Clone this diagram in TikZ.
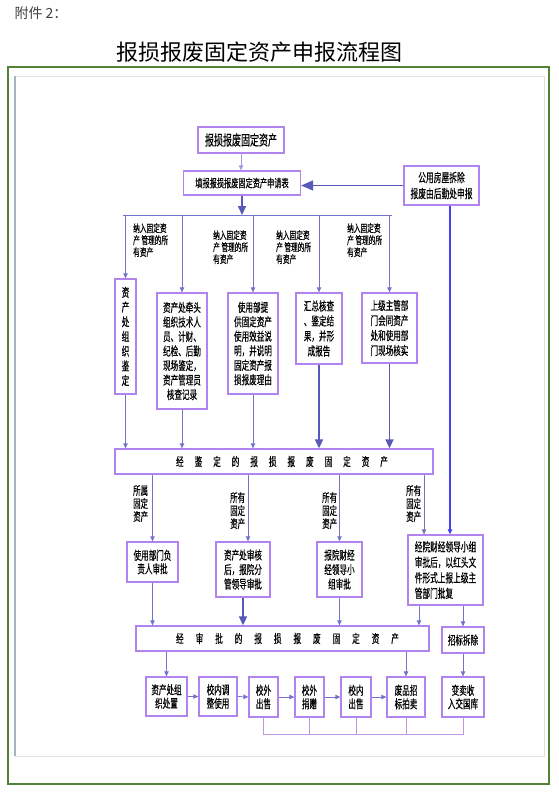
\documentclass[tikz,border=0pt]{standalone}
\usepackage{fontspec}
\usepackage{tikz}
\usetikzlibrary{arrows.meta}
\newfontfamily\cjk[FakeStretch=0.63,FakeBold=0.5]{Noto Sans CJK SC}
\newfontfamily\cjkwide{Noto Sans CJK SC}
\definecolor{boxline}{RGB}{178,132,240}
\definecolor{flowline}{RGB}{115,115,205}
\definecolor{flowdark}{RGB}{88,88,185}
\definecolor{flowblue}{RGB}{65,65,245}
\definecolor{bracketline}{RGB}{190,150,225}
\definecolor{framegreen}{RGB}{84,130,53}
\definecolor{framegray}{RGB}{222,226,228}
\definecolor{frameblue}{RGB}{160,182,192}
\newcommand{\barsep}[1][11pt]{\hspace{#1}}
\tikzset{
  box/.style={draw=boxline, line width=1.3pt, inner sep=1pt, align=center,
    font=\cjk\fontsize{12}{14.5}\selectfont},
  note/.style={anchor=north west, inner sep=0pt, align=left,
    font=\cjk\fontsize{10.6}{12}\selectfont},
  tag/.style={note, font=\cjk\fontsize{11.8}{13}\selectfont},
  flow/.style={draw=flowline, line width=0.8pt, -{Triangle[length=5pt,width=4.5pt]}},
  bigflow/.style={draw=flowdark, line width=1.6pt, -{Triangle[length=9pt,width=8pt]}},
}
\begin{document}
\begin{tikzpicture}[x=1pt,y=-1pt]
  \useasboundingbox (0,0) rectangle (559,795);
  \draw[framegreen, line width=1.2pt] (8,67) rectangle (549,784);
  \draw[framegray, line width=1pt] (15,76) rectangle (544,756);
  \draw[frameblue, line width=1.5pt] (15,76) -- (15,756);

  \node[anchor=west, text=black!75, font=\cjkwide\fontsize{14}{16}\selectfont] (annex) at (11,13) {附件 2：};
  \node[font=\cjkwide\fontsize{22}{24}\selectfont] (title) at (259,52) {报损报废固定资产申报流程图};

  % application
  \node[box, minimum width=86pt, minimum height=26pt, font=\cjk\fontsize{14.3}{15}\selectfont] (a) at (241,140) {报损报废固定资产};
  \node[box, minimum width=117pt, minimum height=24pt, font=\cjk\fontsize{11.4}{12}\selectfont] (b) at (242,183) {填报报损报废固定资产申请表};
  \node[box, minimum width=75pt, minimum height=39pt, font=\cjk\fontsize{12.3}{16}\selectfont] (c) at (441.5,185.5) {公用房屋拆除\\报废由后勤处申报};
  \coordinate (splitL) at (123,215);
  \coordinate (splitR) at (392,215);

  % appraisal
  \node[box, minimum width=21pt, minimum height=115pt, font=\cjk\fontsize{12}{14.7}\selectfont] (d1) at (125.5,336.5) {资\\产\\处\\组\\织\\鉴\\定};
  \node[box, minimum width=50pt, minimum height=116pt] (d2) at (182,351) {资产处牵头\\组织技术人\\员、计财、\\纪检、后勤\\现场鉴定，\\资产管理员\\核查记录};
  \node[box, minimum width=50pt, minimum height=101pt] (d3) at (253,343.5) {使用部提\\供固定资产\\使用效益说\\明，并说明\\固定资产报\\损报废理由};
  \node[box, minimum width=46pt, minimum height=71pt, font=\cjk\fontsize{12}{15}\selectfont] (d4) at (319,328.5) {汇总核查\\、鉴定结\\果，并形\\成报告};
  \node[box, minimum width=55pt, minimum height=70pt, font=\cjk\fontsize{12}{15}\selectfont] (d5) at (389.5,328) {上级主管部\\门会同资产\\处和使用部\\门现场核实};
  \node[note] (n1) at (133,223) {纳入固定资\\产 管理的所\\有资产};
  \node[note] (n2) at (213,230) {纳入固定资\\产 管理的所\\有资产};
  \node[note] (n3) at (276,230) {纳入固定资\\产 管理的所\\有资产};
  \node[note] (n4) at (347,223) {纳入固定资\\产 管理的所\\有资产};
  \node[box, minimum width=318pt, minimum height=25pt] (e) at (274,461.5) {\hspace*{16pt}经\barsep 鉴\barsep 定\barsep 的\barsep 报\barsep 损\barsep 报\barsep 废\barsep 固\barsep 定\barsep 资\barsep 产};

  % approval
  \node[box, minimum width=51pt, minimum height=40pt, font=\cjk\fontsize{12}{13.5}\selectfont] (f1) at (152.5,562) {使用部门负\\责人审批};
  \node[box, minimum width=54pt, minimum height=55pt] (f2) at (243,569.5) {资产处审核\\后，报院分\\管领导审批};
  \node[box, minimum width=45pt, minimum height=55pt] (f3) at (339.5,569.5) {报院财经\\经领导小\\组审批};
  \node[box, minimum width=75pt, minimum height=70pt, align=left, font=\cjk\fontsize{12.2}{15.5}\selectfont] (f4) at (445.5,570) {经院财经领导小组\\审批后，以红头文\\件形式上报上级主\\管部门批复};
  \node[tag] (t1) at (133,485) {所属\\固定\\资产};
  \node[tag] (t2) at (230,492) {所有\\固定\\资产};
  \node[tag] (t3) at (322,492) {所有\\固定\\资产};
  \node[tag] (t4) at (406,485) {所有\\固定\\资产};
  \node[box, minimum width=293pt, minimum height=25pt] (g) at (282.5,638.5) {\hspace*{10pt}经\barsep[12pt]审\barsep[12pt]批\barsep[12pt]的\barsep[12pt]报\barsep[12pt]损\barsep[12pt]报\barsep[12pt]废\barsep[12pt]固\barsep[12pt]定\barsep[12pt]资\barsep[12pt]产};
  \node[box, minimum width=42pt, minimum height=26pt] (h) at (463,640) {招标拆除};

  % disposal
  \node[box, minimum width=41pt, minimum height=39pt, font=\cjk\fontsize{12}{13.5}\selectfont] (i1) at (166.5,696.5) {资产处组\\织处置};
  \node[box, minimum width=38pt, minimum height=39pt, font=\cjk\fontsize{12}{13.5}\selectfont] (i2) at (218,696.5) {校内调\\整使用};
  \node[box, minimum width=29pt, minimum height=40pt, font=\cjk\fontsize{12}{13.5}\selectfont] (i3) at (263.5,697) {校外\\出售};
  \node[box, minimum width=29pt, minimum height=40pt, font=\cjk\fontsize{12}{13.5}\selectfont] (i4) at (309.5,697) {校外\\捐赠};
  \node[box, minimum width=30pt, minimum height=40pt, font=\cjk\fontsize{12}{13.5}\selectfont] (i5) at (356,697) {校内\\出售};
  \node[box, minimum width=38pt, minimum height=40pt, font=\cjk\fontsize{12}{13.5}\selectfont] (i6) at (406,697) {废品招\\标拍卖};
  \node[box, minimum width=42pt, minimum height=40pt, font=\cjk\fontsize{12}{13.5}\selectfont] (i7) at (463,697) {变卖收\\入交国库};
  \coordinate (bkt) at (0,734);

  % connectors
  \draw[flow, draw=flowline!70] (a.south) -- (a.south |- b.north);
  \draw[bigflow, -{Triangle[length=12pt,width=10pt]}] (c.west) -- (c.west -| b.east);
  \draw[bigflow] (b.south) -- (b.south |- splitL);
  \draw[draw=flowline, line width=1pt] (splitL) -- (splitR);
  \foreach \n in {d1,d2,d3,d4,d5}
    \draw[flow] (\n.north |- splitL) -- (\n.north);
  \foreach \n in {d1,d2,d3}
    \draw[flow] (\n.south) -- (\n.south |- e.north);
  \foreach \n in {d4,d5}
    \draw[bigflow] (\n.south) -- (\n.south |- e.north);
  \draw[flow] (f1.north |- e.south) -- (f1.north);
  \coordinate (f2a) at ([xshift=5pt]f2.north);
  \draw[flow] (f2a |- e.south) -- (f2a);
  \draw[flow] (f3.north |- e.south) -- (f3.north);
  \coordinate (f4a) at ([xshift=-21.5pt]f4.north);
  \draw[flow, draw=flowline!80!gray] (f4a |- e.south) -- (f4a);
  \coordinate (cdrop) at ([xshift=8.5pt]c.south);
  \draw[flow, draw=flowblue, line width=1.1pt] (cdrop) -- (cdrop |- f4.north);
  \draw[flow] (f1.south) -- (f1.south |- g.north);
  \draw[bigflow] (f2.south) -- (f2.south |- g.north);
  \draw[flow] (f3.south) -- (f3.south |- g.north);
  \coordinate (f4b) at ([xshift=-26.5pt]f4.south);
  \draw[flow] (f4b) -- (f4b |- g.north);
  \draw[flow] (h.north |- f4.south) -- (h.north);
  \draw[flow] (i1.north |- g.south) -- (i1.north);
  \draw[flow] (i6.north |- g.south) -- (i6.north);
  \draw[flow] (h.south) -- (i7.north);
  \foreach \p/\q in {i1/i2,i2/i3,i3/i4,i4/i5,i5/i6}
    \draw[flow] (\p.east) -- (\q.west);
  \draw[bracketline, line width=1pt] (i3.south) -- (i3.south |- bkt) -| (i7.south);
  \foreach \n in {i4,i5,i6}
    \draw[bracketline, line width=1pt] (\n.south) -- (\n.south |- bkt);
\end{tikzpicture}
\end{document}
